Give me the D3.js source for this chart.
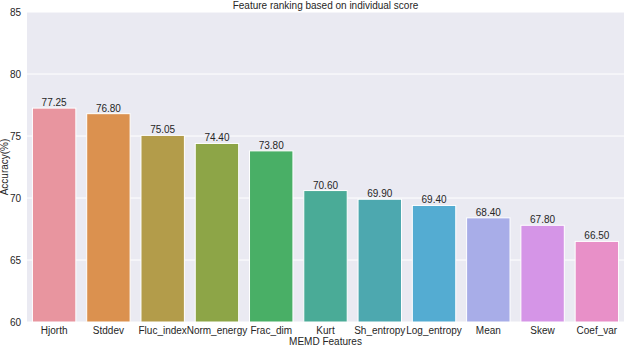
<!DOCTYPE html>
<html>
<head>
<meta charset="utf-8">
<script src="https://cdn.jsdelivr.net/npm/d3@7"></script>
<style>
  body { margin: 0; background: #fff; }
  svg { font-family: "Liberation Sans", Arial, sans-serif; }
</style>
</head>
<body>
<div class="Chart"></div>
<script>
// Feature ranking data
const features = ["Hjorth", "Stddev", "Fluc_index", "Norm_energy", "Frac_dim", "Kurt",
  "Sh_entropy", "Log_entropy", "Mean", "Skew", "Coef_var"];
const accuracy = [77.25, 76.80, 75.05, 74.40, 73.80, 70.60, 69.90, 69.40, 68.40, 67.80, 66.50];
const colors = ["#e8959f", "#db914f", "#b39c4a", "#8da547", "#49af66", "#4aab97",
  "#4da8af", "#54acd2", "#a8ade8", "#d595e7", "#e890c8"];
const yTicks = [60, 65, 70, 75, 80, 85];

const WIDTH = 624;
const HEIGHT = 346;
const margin = { top: 12, right: 0, bottom: 24, left: 27 };

const svg = d3.select(".Chart").append("svg")
  .attr("width", WIDTH)
  .attr("height", HEIGHT);

// SCALES
const xScale = d3.scaleBand()
  .domain(features)
  .range([margin.left, WIDTH - margin.right])
  .paddingInner(0.2)
  .paddingOuter(0.1);

const yScale = d3.scaleLinear()
  .domain([60, 85])
  .range([HEIGHT - margin.bottom, margin.top]);

// Background panel
svg.append("rect")
  .attr("x", margin.left)
  .attr("y", margin.top)
  .attr("width", WIDTH - margin.left - margin.right)
  .attr("height", HEIGHT - margin.top - margin.bottom)
  .attr("fill", "#eaeaf2");

// Grid lines
svg.selectAll(".grid")
  .data(yTicks)
  .join("line")
  .attr("class", "grid")
  .attr("x1", margin.left)
  .attr("x2", WIDTH - margin.right)
  .attr("y1", (d) => yScale(d))
  .attr("y2", (d) => yScale(d))
  .attr("stroke", "#fff")
  .attr("stroke-width", 1);

// Bars
svg.selectAll(".bar")
  .data(features)
  .join("rect")
  .attr("class", "bar")
  .attr("x", (d) => xScale(d))
  .attr("y", (d, i) => yScale(accuracy[i]))
  .attr("width", xScale.bandwidth())
  .attr("height", (d, i) => yScale(60) - yScale(accuracy[i]))
  .attr("fill", (d, i) => colors[i])
  .attr("stroke", "#fff")
  .attr("stroke-width", 1);

// Value labels
svg.selectAll(".value")
  .data(features)
  .join("text")
  .attr("class", "value")
  .attr("x", (d) => xScale(d) + xScale.bandwidth() / 2)
  .attr("y", (d, i) => yScale(accuracy[i]) - 2)
  .attr("text-anchor", "middle")
  .attr("font-size", 10)
  .attr("fill", "#262626")
  .text((d, i) => accuracy[i].toFixed(2));

// Axes
const xAxis = svg.append("g")
  .attr("transform", `translate(0,${HEIGHT - margin.bottom})`)
  .call(d3.axisBottom(xScale).tickSize(0).tickPadding(5));
xAxis.select(".domain").remove();
xAxis.selectAll("text").attr("font-size", 10).attr("fill", "#262626");

const yAxis = svg.append("g")
  .attr("transform", `translate(${margin.left},0)`)
  .call(d3.axisLeft(yScale).tickValues(yTicks).tickSize(0).tickPadding(6));
yAxis.select(".domain").remove();
yAxis.selectAll("text").attr("font-size", 10).attr("fill", "#262626");

// Title and axis labels
svg.append("text")
  .attr("x", (margin.left + WIDTH - margin.right) / 2)
  .attr("y", 9)
  .attr("text-anchor", "middle")
  .attr("font-size", 10)
  .attr("fill", "#262626")
  .text("Feature ranking based on individual score");

svg.append("text")
  .attr("x", (margin.left + WIDTH - margin.right) / 2)
  .attr("y", HEIGHT - 1)
  .attr("text-anchor", "middle")
  .attr("font-size", 10)
  .attr("fill", "#262626")
  .text("MEMD Features");

svg.append("text")
  .attr("transform", `translate(7.5,${(margin.top + HEIGHT - margin.bottom) / 2}) rotate(-90)`)
  .attr("text-anchor", "middle")
  .attr("font-size", 10)
  .attr("fill", "#262626")
  .text("Accuracy(%)");
</script>
</body>
</html>
